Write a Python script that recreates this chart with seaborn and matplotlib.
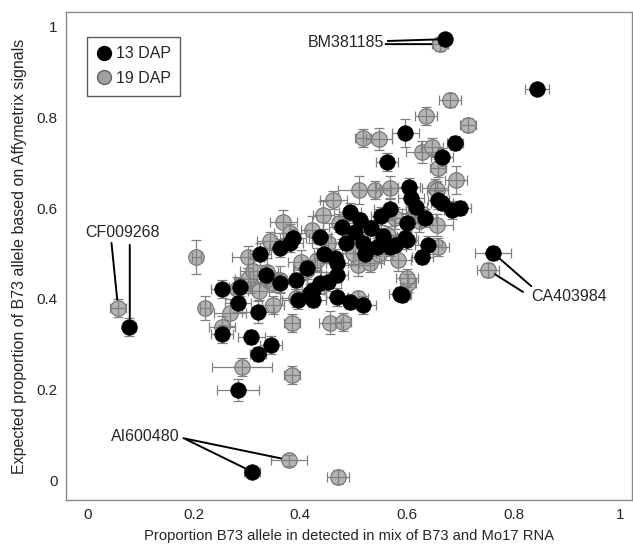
import numpy as np
import pandas as pd
import matplotlib
matplotlib.use("Agg")
import matplotlib.pyplot as plt
import seaborn as sns
from matplotlib.lines import Line2D

# 13 DAP (black) points
black_x = [0.672, 0.844, 0.762, 0.079, 0.310, 0.283, 0.253, 0.283, 0.321, 0.253, 0.308, 0.345, 0.321, 0.287,
           0.396, 0.424, 0.469, 0.493, 0.518, 0.591, 0.418, 0.325, 0.386, 0.437, 0.362, 0.437, 0.469, 0.469,
           0.465, 0.478, 0.493, 0.512, 0.518, 0.544, 0.578, 0.600, 0.640, 0.629, 0.568, 0.563, 0.604, 0.597,
           0.690, 0.666, 0.659, 0.666, 0.685, 0.700, 0.600, 0.634, 0.597, 0.568, 0.587, 0.381, 0.424,
           0.362, 0.412, 0.445, 0.503, 0.532, 0.552, 0.452, 0.392, 0.336, 0.522, 0.556, 0.485, 0.618, 0.608]
black_y = [0.973, 0.863, 0.501, 0.338, 0.018, 0.199, 0.422, 0.391, 0.371, 0.322, 0.316, 0.298, 0.278, 0.426,
           0.397, 0.397, 0.404, 0.393, 0.386, 0.408, 0.413, 0.499, 0.534, 0.536, 0.435, 0.435, 0.453, 0.479,
           0.490, 0.558, 0.592, 0.574, 0.523, 0.514, 0.519, 0.530, 0.519, 0.492, 0.598, 0.702, 0.647, 0.766,
           0.744, 0.713, 0.618, 0.611, 0.596, 0.600, 0.567, 0.578, 0.534, 0.514, 0.411, 0.523, 0.419,
           0.512, 0.468, 0.498, 0.548, 0.556, 0.582, 0.438, 0.442, 0.452, 0.498, 0.538, 0.522, 0.602, 0.622]
black_xerr = [0.010, 0.022, 0.034, 0.012, 0.015, 0.040, 0.020, 0.025, 0.030, 0.020, 0.025, 0.020, 0.015, 0.020,
              0.030, 0.025, 0.020, 0.020, 0.025, 0.015, 0.030, 0.020, 0.025, 0.020, 0.030, 0.025, 0.020, 0.020,
              0.015, 0.025, 0.020, 0.030, 0.020, 0.025, 0.020, 0.020, 0.025, 0.020, 0.030, 0.020, 0.020, 0.025,
              0.015, 0.020, 0.020, 0.020, 0.015, 0.020, 0.025, 0.020, 0.020, 0.030, 0.020, 0.025, 0.020,
              0.020, 0.025, 0.020, 0.025, 0.020, 0.020, 0.025, 0.020, 0.025, 0.020, 0.025, 0.020, 0.020, 0.025]
black_yerr = [0.010, 0.010, 0.015, 0.020, 0.012, 0.025, 0.020, 0.020, 0.025, 0.020, 0.015, 0.020, 0.015, 0.020,
              0.020, 0.015, 0.020, 0.015, 0.020, 0.015, 0.020, 0.025, 0.020, 0.015, 0.020, 0.025, 0.015, 0.020,
              0.020, 0.025, 0.020, 0.015, 0.020, 0.020, 0.015, 0.020, 0.020, 0.015, 0.025, 0.020, 0.020, 0.030,
              0.015, 0.020, 0.020, 0.015, 0.020, 0.015, 0.020, 0.020, 0.015, 0.020, 0.015, 0.020, 0.015,
              0.020, 0.015, 0.020, 0.020, 0.015, 0.020, 0.020, 0.015, 0.020, 0.020, 0.015, 0.020, 0.020, 0.015]

# 19 DAP (grey) points
grey_x = [0.662, 0.681, 0.715, 0.752, 0.058, 0.379, 0.471, 0.291, 0.385, 0.221, 0.253, 0.268, 0.349, 0.385,
          0.456, 0.480, 0.508, 0.602, 0.306, 0.349, 0.205, 0.302, 0.343, 0.368, 0.381, 0.443, 0.462, 0.510,
          0.540, 0.568, 0.518, 0.548, 0.636, 0.629, 0.647, 0.659, 0.692, 0.653, 0.578, 0.615, 0.657, 0.659,
          0.565, 0.508, 0.531, 0.583, 0.600, 0.432, 0.413, 0.338, 0.302, 0.657,
          0.402, 0.452, 0.498, 0.548, 0.362, 0.282, 0.322, 0.622, 0.472, 0.422, 0.312, 0.392]
grey_y = [0.962, 0.839, 0.784, 0.464, 0.380, 0.044, 0.007, 0.249, 0.232, 0.380, 0.338, 0.369, 0.386, 0.347,
          0.347, 0.349, 0.402, 0.435, 0.437, 0.435, 0.492, 0.492, 0.528, 0.570, 0.545, 0.585, 0.618, 0.640,
          0.640, 0.645, 0.755, 0.753, 0.804, 0.724, 0.735, 0.689, 0.662, 0.645, 0.578, 0.589, 0.563, 0.514,
          0.541, 0.475, 0.479, 0.486, 0.446, 0.486, 0.464, 0.459, 0.444, 0.640,
          0.482, 0.522, 0.502, 0.498, 0.442, 0.422, 0.418, 0.572, 0.568, 0.552, 0.462, 0.402]
grey_xerr = [0.015, 0.020, 0.015, 0.020, 0.015, 0.034, 0.020, 0.056, 0.015, 0.010, 0.025, 0.030, 0.020, 0.015,
             0.020, 0.015, 0.020, 0.015, 0.030, 0.025, 0.008, 0.030, 0.025, 0.025, 0.030, 0.020, 0.025, 0.040,
             0.030, 0.025, 0.015, 0.025, 0.020, 0.030, 0.020, 0.015, 0.020, 0.025, 0.030, 0.025, 0.030, 0.020,
             0.025, 0.030, 0.020, 0.025, 0.020, 0.030, 0.025, 0.020, 0.025, 0.020,
             0.025, 0.030, 0.020, 0.025, 0.030, 0.025, 0.020, 0.025, 0.030, 0.020, 0.025, 0.030]
grey_yerr = [0.015, 0.015, 0.015, 0.015, 0.020, 0.012, 0.015, 0.020, 0.020, 0.027, 0.025, 0.030, 0.020, 0.020,
             0.025, 0.020, 0.015, 0.020, 0.025, 0.020, 0.037, 0.025, 0.020, 0.025, 0.020, 0.030, 0.020, 0.030,
             0.020, 0.025, 0.020, 0.025, 0.020, 0.025, 0.020, 0.020, 0.030, 0.020, 0.025, 0.020, 0.025, 0.020,
             0.020, 0.025, 0.020, 0.025, 0.020, 0.025, 0.020, 0.030, 0.025, 0.020,
             0.025, 0.020, 0.025, 0.020, 0.030, 0.025, 0.020, 0.025, 0.020, 0.030, 0.025, 0.020]

df = pd.concat([
    pd.DataFrame({"x": grey_x, "y": grey_y, "xerr": grey_xerr, "yerr": grey_yerr, "stage": "19 DAP"}),
    pd.DataFrame({"x": black_x, "y": black_y, "xerr": black_xerr, "yerr": black_yerr, "stage": "13 DAP"}),
])

sns.set_style("white")
plt.rcParams["font.family"] = ["Liberation Sans", "DejaVu Sans"]

fig = plt.figure(figsize=(6.33, 5.44), dpi=100)
ax = fig.add_axes([0.104, 0.081, 0.894, 0.897])

grey = df[df.stage == "19 DAP"]
black = df[df.stage == "13 DAP"]

sns.scatterplot(data=grey, x="x", y="y", color="#b4b4b4", edgecolor="#707070", linewidth=0.8,
                s=125, ax=ax, zorder=2, legend=False)
ax.errorbar(df["x"], df["y"], xerr=df["xerr"], yerr=df["yerr"], fmt="none",
            ecolor="#808080", elinewidth=0.9, capsize=3.5, capthick=0.9, zorder=3)
sns.scatterplot(data=black, x="x", y="y", color="black", edgecolor="black", linewidth=0.5,
                s=125, ax=ax, zorder=4, legend=False)

# annotations
fs_ann = 11.5
line_kw = dict(arrowstyle="-", color="black", lw=1.4, shrinkA=0, shrinkB=6)
ax.annotate("BM381185", xy=(0.672, 0.973), xytext=(0.558, 0.966), ha="right", va="center",
            fontsize=fs_ann, arrowprops=line_kw, zorder=5)
ax.annotate("", xy=(0.662, 0.962), xytext=(0.560, 0.962), arrowprops=line_kw, zorder=5)

ax.annotate("CF009268", xy=(0.058, 0.380), xytext=(0.066, 0.547), ha="center", va="center",
            fontsize=fs_ann, arrowprops=dict(line_kw, relpos=(0.35, 0.0)), zorder=5)
ax.annotate("", xy=(0.080, 0.338), xytext=(0.080, 0.519), arrowprops=line_kw, zorder=5)

ax.annotate("CA403984", xy=(0.762, 0.501), xytext=(0.905, 0.404), ha="center", va="center",
            fontsize=fs_ann, arrowprops=dict(line_kw, relpos=(0.08, 0.85)), zorder=5)
ax.annotate("", xy=(0.752, 0.464), xytext=(0.818, 0.415), arrowprops=line_kw, zorder=5)

ax.annotate("AI600480", xy=(0.379, 0.044), xytext=(0.11, 0.097), ha="center", va="center",
            fontsize=fs_ann, arrowprops=dict(line_kw, relpos=(1.0, 0.4)), zorder=5)
ax.annotate("", xy=(0.310, 0.018), xytext=(0.185, 0.090), arrowprops=line_kw, zorder=5)

ax.set_xlim(-0.04, 1.022)
ax.set_ylim(-0.044, 1.033)
ax.set_xticks([0, 0.2, 0.4, 0.6, 0.8, 1])
ax.set_xticklabels(["0", "0.2", "0.4", "0.6", "0.8", "1"])
ax.set_yticks([0, 0.2, 0.4, 0.6, 0.8, 1])
ax.set_yticklabels(["0", "0.2", "0.4", "0.6", "0.8", "1"])
ax.tick_params(length=0, labelsize=11, pad=6)
ax.set_xlabel("Proportion B73 allele in detected in mix of B73 and Mo17 RNA", fontsize=10.6, labelpad=5)
ax.set_ylabel("Expected proportion of B73 allele based on Affymetrix signals", fontsize=11.5, labelpad=7)
for side in ["left", "top", "bottom", "right"]:
    ax.spines[side].set_color("#8a8a8a")
    ax.spines[side].set_linewidth(1.0)

handles = [Line2D([], [], marker="o", ls="none", color="black", markersize=10),
           Line2D([], [], marker="o", ls="none", markerfacecolor="#a0a0a0", markeredgecolor="#606060", markersize=10)]
leg = ax.legend(handles, ["13 DAP", "19 DAP"], loc="upper left", bbox_to_anchor=(0.037, 0.949),
                borderaxespad=0, fontsize=11.5, frameon=True, fancybox=False, handletextpad=0.2,
                handlelength=1.0, borderpad=0.6, labelspacing=0.6)
leg.get_frame().set_edgecolor("#333333")
leg.get_frame().set_linewidth(1.0)

fig.savefig("out.png", dpi=100)
